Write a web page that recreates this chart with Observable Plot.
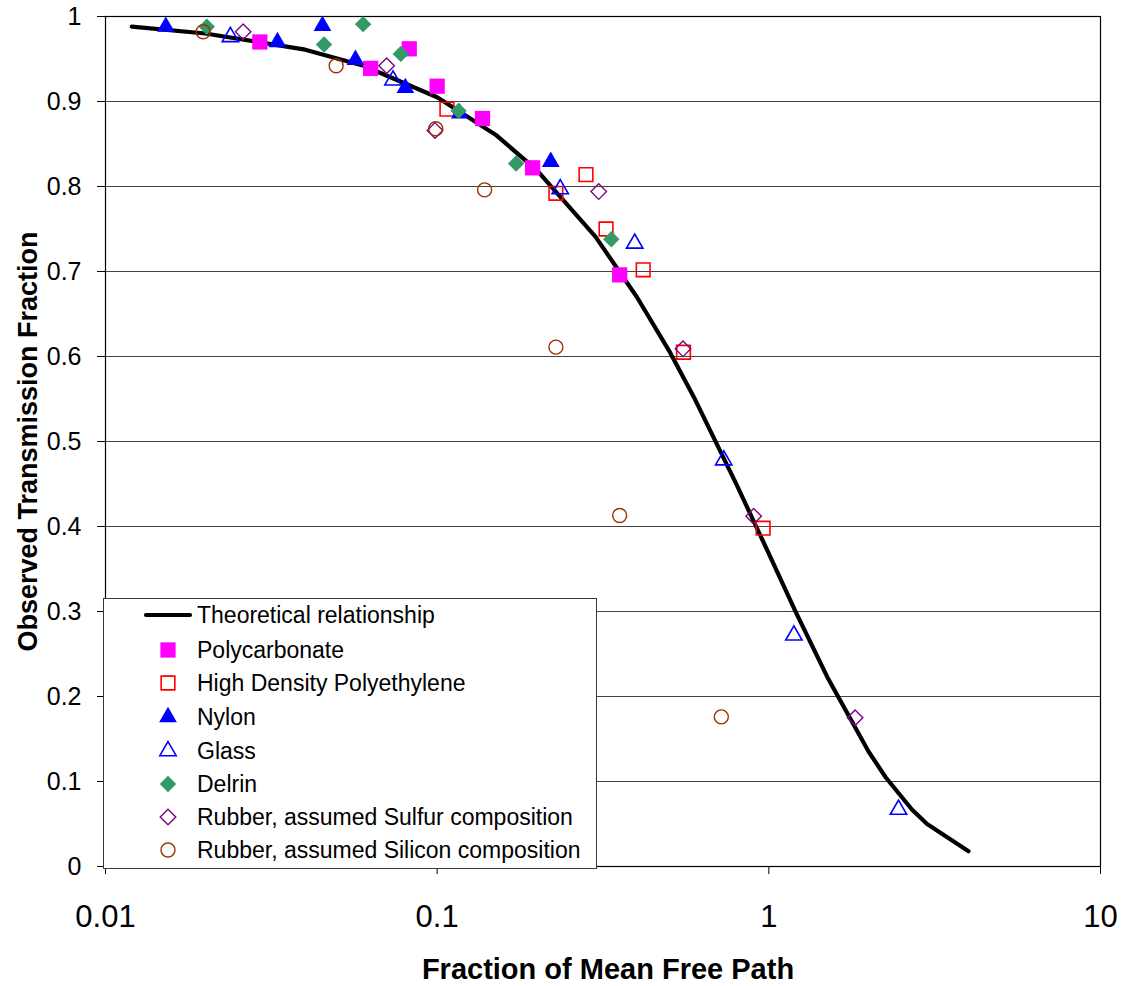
<!DOCTYPE html>
<html>
<head>
<meta charset="utf-8">
<script src="https://cdn.jsdelivr.net/npm/d3@7"></script>
<script src="https://cdn.jsdelivr.net/npm/@observablehq/plot@0.6"></script>
<style>
  body { margin: 0; background: white; }
  #wrap { position: relative; width: 1124px; height: 986px; font-family: "Liberation Sans", Arial, sans-serif; }
  #legend { position: absolute; left: 103px; top: 598px; width: 494px; height: 271px; box-sizing: border-box;
            border: 1.5px solid #3a3a3a; background: white; }
</style>
</head>
<body>
<div id="wrap"></div>
<script>
// ---- tick labels ----
const xTicks = [0.01, 0.1, 1, 10];
const xTickLabels = ["0.01", "0.1", "1", "10"];
const yTicks = [0, 0.1, 0.2, 0.3, 0.4, 0.5, 0.6, 0.7, 0.8, 0.9, 1];
const yTickLabels = ["0", "0.1", "0.2", "0.3", "0.4", "0.5", "0.6", "0.7", "0.8", "0.9", "1"];
const gridValues = [0.1, 0.2, 0.3, 0.4, 0.5, 0.6, 0.7, 0.8, 0.9];

// ---- series names ----
const seriesNames = [
  "Theoretical relationship",
  "Polycarbonate",
  "High Density Polyethylene",
  "Nylon",
  "Glass",
  "Delrin",
  "Rubber, assumed Sulfur composition",
  "Rubber, assumed Silicon composition"
];

// ---- theoretical curve (x = fraction of mean free path, y = transmission) ----
const theoryX = [0.012, 0.02, 0.04, 0.06, 0.1, 0.15, 0.2, 0.3, 0.4, 0.5, 0.6, 0.8, 1, 1.2, 1.5, 2, 2.25, 2.7, 3, 4];
const theoryY = [0.988, 0.980, 0.961, 0.942, 0.905, 0.861, 0.819, 0.741, 0.670, 0.607, 0.549, 0.449, 0.368, 0.301, 0.223, 0.135, 0.105, 0.067, 0.050, 0.018];

// ---- measured series ----
const polycarbonateX = [0.0292, 0.0630, 0.0824, 0.100, 0.137, 0.194, 0.355];
const polycarbonateY = [0.970, 0.939, 0.962, 0.918, 0.880, 0.822, 0.696];

const hdpeX = [0.107, 0.228, 0.281, 0.323, 0.418, 0.553, 0.961];
const hdpeY = [0.891, 0.792, 0.814, 0.750, 0.702, 0.605, 0.398];

const nylonX = [0.0152, 0.0330, 0.0451, 0.0567, 0.0802, 0.117, 0.220];
const nylonY = [0.988, 0.970, 0.989, 0.949, 0.916, 0.886, 0.829];

const glassX = [0.0238, 0.0736, 0.235, 0.394, 0.731, 1.19, 2.46];
const glassY = [0.976, 0.925, 0.797, 0.733, 0.478, 0.272, 0.067];

const delrinX = [0.0202, 0.0456, 0.0598, 0.0777, 0.116, 0.173, 0.335];
const delrinY = [0.988, 0.967, 0.991, 0.956, 0.889, 0.827, 0.738];

const sulfurX = [0.0260, 0.0704, 0.0985, 0.307, 0.551, 0.900, 1.82];
const sulfurY = [0.982, 0.942, 0.866, 0.794, 0.609, 0.412, 0.175];

const siliconX = [0.0197, 0.0496, 0.0990, 0.139, 0.228, 0.355, 0.719];
const siliconY = [0.982, 0.942, 0.868, 0.796, 0.611, 0.413, 0.176];

// ---- build tables ----
const zip = (xs, ys) => xs.map((x, i) => ({x, y: ys[i]}));
const theory = zip(theoryX, theoryY);

const styles = [
  {name: seriesNames[1], data: zip(polycarbonateX, polycarbonateY), symbol: "square",   r: 8.6, fill: "#FF00FF", stroke: "none", sw: 0},
  {name: seriesNames[2], data: zip(hdpeX, hdpeY),                   symbol: "square2",  r: 8.7, fill: "none", stroke: "#FF0000", sw: 1.6},
  {name: seriesNames[3], data: zip(nylonX, nylonY),                 symbol: "triangle", r: 6.6, fill: "#0000FF", stroke: "none", sw: 0},
  {name: seriesNames[4], data: zip(glassX, glassY),                 symbol: "triangle2",r: 7.8, fill: "none", stroke: "#0000FF", sw: 1.6},
  {name: seriesNames[5], data: zip(delrinX, delrinY),               symbol: "diamond2", r: 7.4, fill: "#339966", stroke: "none", sw: 0},
  {name: seriesNames[6], data: zip(sulfurX, sulfurY),               symbol: "diamond2", r: 7.0, fill: "none", stroke: "#800080", sw: 1.4},
  {name: seriesNames[7], data: zip(siliconX, siliconY),             symbol: "circle",   r: 7.0, fill: "none", stroke: "#993300", sw: 1.4}
];

const font = "'Liberation Sans', Arial, sans-serif";

const dotMarks = styles.map(s => Plot.dot(s.data, {
  x: "x", y: "y", symbol: s.symbol, r: s.r,
  fill: s.fill, stroke: s.stroke, strokeWidth: s.sw
}));

const chart = Plot.plot({
  width: 1124,
  height: 986,
  marginLeft: 105,
  marginRight: 24,
  marginTop: 16,
  marginBottom: 120,
  style: {fontFamily: font, background: "white", color: "black", overflow: "visible"},
  x: {type: "log", domain: [0.01, 10], label: null},
  y: {domain: [0, 1], label: null},
  marks: [
    Plot.gridY(gridValues, {stroke: "#444", strokeOpacity: 1, strokeWidth: 1.1}),
    Plot.frame({stroke: "black", strokeWidth: 1.2}),
    Plot.axisX(xTicks, {
      tickSize: 8, tickPadding: 30, fontSize: 31, label: null,
      tickFormat: d => xTickLabels[xTicks.indexOf(d)]
    }),
    Plot.axisY(yTicks, {
      tickSize: 8, tickPadding: 16, fontSize: 25, label: null,
      tickFormat: d => yTickLabels[yTicks.indexOf(d)]
    }),
    Plot.line(theory, {x: "x", y: "y", stroke: "black", strokeWidth: 4.2, strokeLinejoin: "round", strokeLinecap: "round"}),
    ...dotMarks,
    Plot.text(["Fraction of Mean Free Path"], {
      text: d => d, frameAnchor: "bottom", dy: 103, dx: 5,
      fontSize: 29, fontWeight: "bold", lineAnchor: "middle", fill: "black"
    }),
    Plot.text(["Observed Transmission Fraction"], {
      text: d => d, frameAnchor: "left", dx: -77, rotate: -90,
      fontSize: 27, fontWeight: "bold", lineAnchor: "middle", textAnchor: "middle", fill: "black"
    })
  ]
});

const wrap = document.getElementById("wrap");
wrap.appendChild(chart);

// ---- legend (overlay box) ----
const legend = document.createElement("div");
legend.id = "legend";
wrap.appendChild(legend);

const rowY = [17, 52, 85, 119, 153, 186, 219, 252];
const svg = d3.select(legend).append("svg")
  .attr("width", 494).attr("height", 271)
  .style("position", "absolute").style("left", "-1.5px").style("top", "-1.5px");

// theoretical line sample
svg.append("line")
  .attr("x1", 43).attr("x2", 87).attr("y1", rowY[0]).attr("y2", rowY[0])
  .attr("stroke", "black").attr("stroke-width", 4.2).attr("stroke-linecap", "round");

const symMap = {
  square: d3.symbolSquare, square2: d3.symbolSquare2,
  triangle: d3.symbolTriangle, triangle2: d3.symbolTriangle2,
  diamond2: d3.symbolDiamond2, circle: d3.symbolCircle
};
styles.forEach((s, i) => {
  svg.append("path")
    .attr("transform", `translate(65,${rowY[i + 1]})`)
    .attr("d", d3.symbol(symMap[s.symbol], Math.PI * s.r * s.r)())
    .attr("fill", s.fill).attr("stroke", s.stroke).attr("stroke-width", s.sw);
});
seriesNames.forEach((n, i) => {
  svg.append("text")
    .attr("x", 94).attr("y", rowY[i]).attr("dy", "0.35em")
    .attr("font-family", font).attr("font-size", 23).attr("fill", "black")
    .text(n);
});
</script>
</body>
</html>
